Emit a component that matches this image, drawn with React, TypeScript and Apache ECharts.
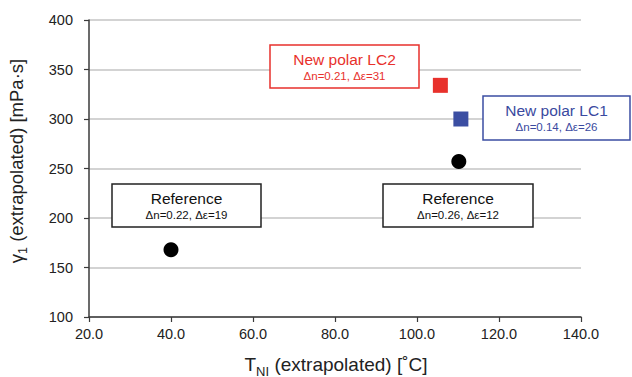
import React, { useEffect, useRef } from "react";
import * as echarts from "echarts";

const referencePoints: [number, number][] = [
  [40.0, 168],
  [110.2, 257],
];
const lc2Points: [number, number][] = [[105.7, 334]];
const lc1Points: [number, number][] = [[110.7, 300]];

const xMin = 20;
const xMax = 140;
const xInterval = 20;
const yMin = 100;
const yMax = 400;
const yInterval = 50;

const FONT = "'Liberation Sans', Arial, sans-serif";
const RED = "#e8312c";
const BLUE = "#3b4ea2";
const BLUE_TEXT = "#3a4aa0";

function box(
  x: number,
  y: number,
  w: number,
  h: number,
  color: string,
  title: string,
  sub: string,
  textColor: string
) {
  return {
    type: "group",
    z: 50,
    children: [
      {
        type: "rect",
        z: 50,
        shape: { x, y, width: w, height: h },
        style: { fill: "#fff", stroke: color, lineWidth: 1.5 },
      },
      {
        type: "text",
        z: 51,
        x: x + w / 2,
        y: y + 14.5,
        style: {
          text: title,
          fill: textColor,
          font: `15.5px ${FONT}`,
          align: "center",
          verticalAlign: "middle",
        },
      },
      {
        type: "text",
        z: 51,
        x: x + w / 2,
        y: y + 30.5,
        style: {
          text: sub,
          fill: textColor,
          font: `11.5px ${FONT}`,
          align: "center",
          verticalAlign: "middle",
        },
      },
    ],
  };
}

export default function App() {
  const ref = useRef<HTMLDivElement>(null);
  useEffect(() => {
    if (!ref.current) return;
    const chart = echarts.init(ref.current, null, { renderer: "svg" });
    chart.setOption({
      animation: false,
      backgroundColor: "#fff",
      grid: { left: 89, right: 51, top: 20, bottom: 60 },
      xAxis: {
        type: "value",
        min: xMin,
        max: xMax,
        interval: xInterval,
        axisLine: { show: true, lineStyle: { color: "#3a3a3a", width: 1.5 } },
        axisTick: { show: true, length: 5, lineStyle: { color: "#3a3a3a", width: 1.2 } },
        splitLine: { show: false },
        axisLabel: {
          margin: 9,
          color: "#222",
          fontFamily: FONT,
          fontSize: 14.5,
          formatter: (v: number) => v.toFixed(1),
        },
      },
      yAxis: {
        type: "value",
        min: yMin,
        max: yMax,
        interval: yInterval,
        axisLine: { show: true, lineStyle: { color: "#3a3a3a", width: 1.5 } },
        axisTick: { show: true, length: 5, lineStyle: { color: "#3a3a3a", width: 1.2 } },
        splitLine: { show: true, lineStyle: { color: "#c4c4c4", width: 1.5 } },
        axisLabel: {
          margin: 16,
          color: "#222",
          fontFamily: FONT,
          fontSize: 14.5,
        },
      },
      series: [
        {
          type: "scatter",
          name: "Reference",
          data: referencePoints,
          symbol: "circle",
          symbolSize: 15,
          itemStyle: { color: "#000", opacity: 1 },
          z: 5,
        },
        {
          type: "scatter",
          name: "New polar LC2",
          data: lc2Points,
          symbol: "rect",
          symbolSize: 15,
          itemStyle: { color: RED, opacity: 1 },
          z: 5,
        },
        {
          type: "scatter",
          name: "New polar LC1",
          data: lc1Points,
          symbol: "rect",
          symbolSize: 15,
          itemStyle: { color: BLUE, opacity: 1 },
          z: 5,
        },
      ],
      graphic: [
        box(270, 45, 149, 43, RED, "New polar LC2", "Δn=0.21, Δε=31", RED),
        box(483, 96, 147, 44, BLUE, "New polar LC1", "Δn=0.14, Δε=26", BLUE_TEXT),
        box(112, 184, 149, 43, "#222", "Reference", "Δn=0.22, Δε=19", "#111"),
        box(383, 184, 150, 43, "#222", "Reference", "Δn=0.26, Δε=12", "#111"),
        {
          type: "text",
          z: 50,
          x: 336,
          y: 364,
          style: {
            text: "{m|T}{s|NI}{m| (extrapolated) [˚C]}",
            align: "center",
            verticalAlign: "middle",
            rich: {
              m: { font: `19px ${FONT}`, fill: "#222", verticalAlign: "bottom" },
              s: { font: `13px ${FONT}`, fill: "#222", verticalAlign: "bottom", padding: [0, 0, -4, 0] },
            },
          },
        },
        {
          type: "text",
          z: 50,
          x: 16,
          y: 161,
          rotation: Math.PI / 2,
          style: {
            text: "{m|γ}{s|1}{m| (extrapolated) [mPa·s]}",
            align: "center",
            verticalAlign: "middle",
            rich: {
              m: { font: `18.5px ${FONT}`, fill: "#222", verticalAlign: "bottom" },
              s: { font: `12.5px ${FONT}`, fill: "#222", verticalAlign: "bottom", padding: [0, 0, -4, 0] },
            },
          },
        },
      ],
    });
    return () => chart.dispose();
  }, []);
  return (
    <div
      ref={ref}
      style={{ width: 632, height: 377, position: "absolute", left: 0, top: 0 }}
    />
  );
}
